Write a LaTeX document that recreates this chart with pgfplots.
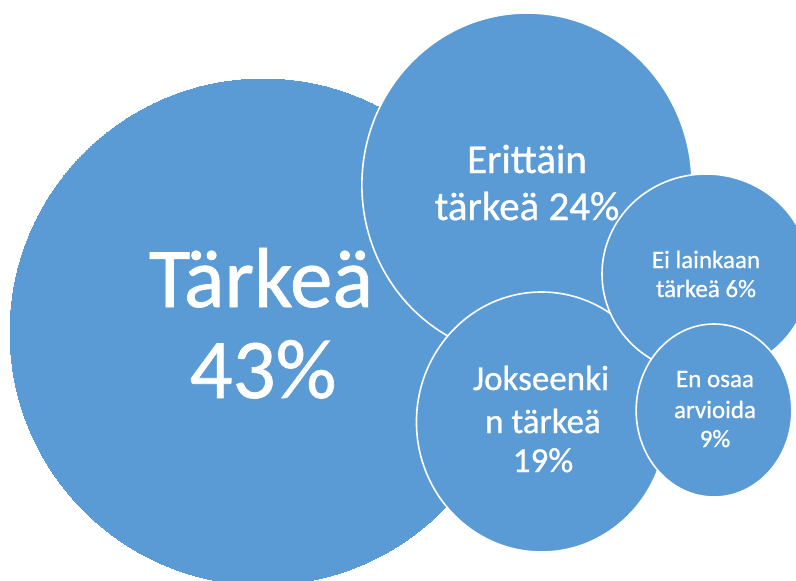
\documentclass[border=0pt]{standalone}
\usepackage{pgfplots}
\pgfplotsset{compat=1.18}
\usepackage{fontspec}
\setmainfont[FakeBold=0.8]{Carlito}
\definecolor{bubble}{RGB}{91,155,213}
\begin{document}
\begin{tikzpicture}
\begin{axis}[
  name=ax,
  width=796pt, height=581pt, scale only axis,
  xmin=0, xmax=796, ymin=0, ymax=581, y dir=reverse,
  hide axis, clip marker paths=true,
  every axis plot/.style={only marks, mark=*},
]
% Tärkeä 43%
\addplot[mark size=253pt, mark options={fill=bubble, draw=bubble, line width=0pt}] coordinates {(263,332)};
% Erittäin tärkeä 24%
\addplot[mark size=172pt, mark options={fill=bubble, draw=white, line width=1.6pt, xscale=0.96}] coordinates {(527,185)};
% Jokseenkin tärkeä 19%
\addplot[mark size=130pt, mark options={fill=bubble, draw=white, line width=1.6pt, xscale=0.962}] coordinates {(541.5,422)};
% Ei lainkaan tärkeä 6%
\addplot[mark size=100pt, mark options={fill=bubble, draw=white, line width=1.6pt, xscale=1.04}] coordinates {(706,274)};
% En osaa arvioida 9%
\addplot[mark size=86.5pt, mark options={fill=bubble, draw=white, line width=1.6pt, xscale=0.9}] coordinates {(714,410.5)};

\coordinate (bl) at (rel axis cs:0,0);
\coordinate (tr) at (rel axis cs:1,1);

\begin{scope}[every node/.style={anchor=base, text=white, inner sep=0pt}]
\node[font=\fontsize{85}{91}\selectfont] at (axis cs:261,307) {Tärkeä};
\node[font=\fontsize{85}{91}\selectfont] at (axis cs:263,398) {43\%};
\node[font=\fontsize{41}{47}\selectfont] at (axis cs:527,173) {Erittäin};
\node[font=\fontsize{41}{47}\selectfont] at (axis cs:527,220) {tärkeä 24\%};
\node[font=\fontsize{25}{29}\selectfont] at (axis cs:706,268) {Ei lainkaan};
\node[font=\fontsize{25}{29}\selectfont] at (axis cs:706,297) {tärkeä 6\%};
\node[font=\fontsize{35}{42}\selectfont] at (axis cs:541,390) {Jokseenki};
\node[font=\fontsize{35}{42}\selectfont] at (axis cs:543,433) {n tärkeä};
\node[font=\fontsize{35}{42}\selectfont] at (axis cs:543,472) {19\%};
\node[font=\fontsize{25}{30}\selectfont] at (axis cs:715,387) {En osaa};
\node[font=\fontsize{25}{30}\selectfont] at (axis cs:715,418) {arvioida};
\node[font=\fontsize{25}{30}\selectfont] at (axis cs:715,447) {9\%};
\end{scope}
\end{axis}
\pgfresetboundingbox
\path[use as bounding box] (bl) rectangle (tr);
\end{tikzpicture}
\end{document}
